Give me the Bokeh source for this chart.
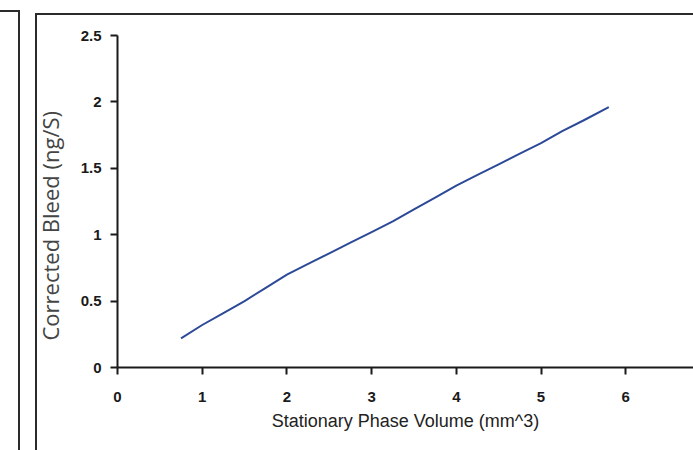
from bokeh.plotting import figure
from bokeh.models import Range1d, FixedTicker, Title, InlineStyleSheet
from bokeh.embed import file_html
from bokeh.resources import INLINE

# Data
volume = [0.75, 1.0, 1.25, 1.5, 1.75, 2.0, 2.25, 2.5, 2.75, 3.0, 3.25,
          3.5, 3.75, 4.0, 4.25, 4.5, 4.75, 5.0, 5.25, 5.5, 5.8]
bleed = [0.22, 0.32, 0.41, 0.50, 0.60, 0.70, 0.78, 0.86, 0.94, 1.02, 1.10,
         1.19, 1.28, 1.37, 1.45, 1.53, 1.61, 1.69, 1.78, 1.86, 1.96]
x_ticks = [0, 1, 2, 3, 4, 5, 6]
y_ticks = [0, 0.5, 1, 1.5, 2, 2.5]
y_tick_labels = {0: "0", 0.5: "0.5", 1: "1", 1.5: "1.5", 2: "2", 2.5: "2.5"}
y_title = "Corrected Bleed (ng/S)"
x_title = "Stationary Phase Volume (mm^3)"

p = figure(width=693, height=450, output_backend="svg", toolbar_location=None,
           x_range=Range1d(0, 6.8), y_range=Range1d(0, 2.5),
           min_border_left=117, min_border_right=0, min_border_top=35,
           min_border_bottom=83)
p.outline_line_color = None
p.xgrid.visible = False
p.ygrid.visible = False
p.background_fill_color = "white"
p.border_fill_color = "white"

p.line(volume, bleed, line_color="#2c4a98", line_width=2)

for ax in (p.xaxis[0], p.yaxis[0]):
    ax.axis_line_color = "#1a1a1a"
    ax.axis_line_width = 2
    ax.major_tick_line_color = "#1a1a1a"
    ax.major_tick_line_width = 2
    ax.major_tick_in = 0
    ax.major_tick_out = 7
    ax.minor_tick_line_color = None
    ax.major_label_text_font = "Liberation Sans"
    ax.major_label_text_font_style = "bold"
    ax.major_label_text_font_size = "15px"
    ax.major_label_text_color = "#1a1a1a"

p.xaxis.ticker = FixedTicker(ticks=x_ticks)
p.yaxis.ticker = FixedTicker(ticks=y_ticks)
p.yaxis.major_label_overrides = y_tick_labels
p.xaxis.major_label_standoff = 17
p.yaxis.major_label_standoff = 9

p.xaxis.axis_label = x_title
p.xaxis.axis_label_text_font = "Liberation Sans"
p.xaxis.axis_label_text_font_style = "normal"
p.xaxis.axis_label_text_font_size = "18px"
p.xaxis.axis_label_text_color = "#222222"
p.xaxis.axis_label_standoff = 6

# y title as a side title (sits lower than the axis centre in the reference)
ytitle = Title(text=y_title, align="left", offset=27,
               text_font="Open Sans", text_font_size="22px",
               text_font_style="normal", text_color="#444444", standoff=26)
p.add_layout(ytitle, "left")

# panel frame lines (page decoration)
css = """
:host::before {
  content: ''; position: absolute; box-sizing: border-box;
  left: 35px; top: 13px; width: 700px; height: 500px;
  border-left: 2.5px solid #2b2b2b; border-top: 2.5px solid #2b2b2b;
  pointer-events: none; z-index: 10;
}
:host::after {
  content: ''; position: absolute; box-sizing: border-box;
  left: -10px; top: 10px; width: 30px; height: 500px;
  border-right: 2.5px solid #2b2b2b; border-top: 2.5px solid #2b2b2b;
  pointer-events: none; z-index: 10;
}
"""
p.stylesheets = [InlineStyleSheet(css=css)]

open("out.html", "w").write(file_html(p, INLINE))
